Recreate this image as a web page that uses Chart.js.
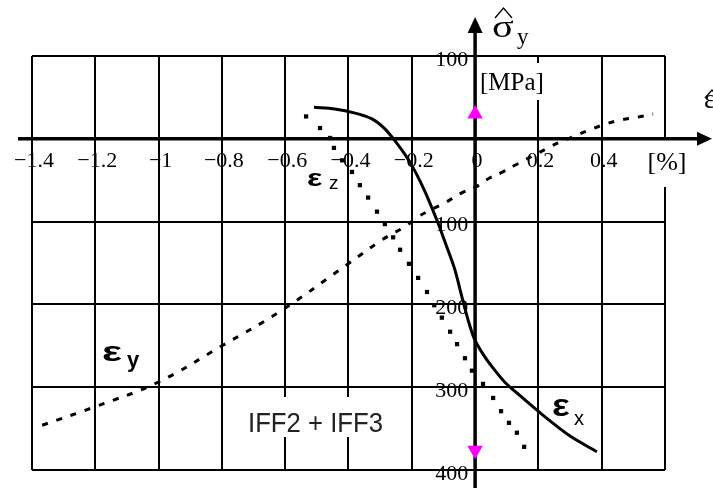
<!DOCTYPE html>
<html>
<head>
<meta charset="utf-8">
<script src="https://cdn.jsdelivr.net/npm/chart.js@4/dist/chart.umd.min.js"></script>
<style>
html,body{margin:0;padding:0;background:#fff;}
#wrap{width:713px;height:488px;}
</style>
</head>
<body>
<div id="wrap"><canvas id="c" width="713" height="488"></canvas></div>
<script>
// x: strain [%], y: stress [MPa] (compression drawn downward, labels as magnitudes)
const xTicks = [-1.4, -1.2, -1.0, -0.8, -0.6, -0.4, -0.2, 0, 0.2, 0.4, 0.6];
const yTicks = [-100, 0, 100, 200, 300, 400];

const epsX_x = [-0.509, -0.443, -0.379, -0.326, -0.285, -0.250, -0.218, -0.190, -0.158, -0.120, -0.089, -0.064, -0.041, -0.022, -0.003, 0.025, 0.057, 0.094, 0.132, 0.215, 0.300, 0.385];
const epsX_y = [-38, -36, -31, -24, -12, 4, 21, 39, 64, 99, 131, 158, 192, 219, 241, 260, 277, 294, 307, 334, 359, 378];

const epsZ_x = [-0.534, -0.490, -0.458, -0.446, -0.420, -0.389, -0.364, -0.338, -0.310, -0.285, -0.259, -0.237, -0.209, -0.180, -0.152, -0.129, -0.105, -0.079, -0.057, -0.032, -0.010, 0.025, 0.057, 0.082, 0.107, 0.132, 0.155];
const epsZ_y = [-27, -13, -1, 11, 26, 40, 56, 71, 88, 103, 119, 134, 151, 168, 185, 201, 216, 233, 248, 265, 280, 296, 313, 329, 343, 355, 372];

const epsY_x = [-1.368, -1.204, -1.002, -0.800, -0.610, -0.405, -0.294, -0.221, -0.180, -0.089, -0.041, 0.003, 0.047, 0.088, 0.126, 0.205, 0.262, 0.306, 0.363, 0.414, 0.464, 0.512, 0.562];
const epsY_y = [346, 324, 294, 250, 207, 152, 122, 106, 94, 76, 65, 58, 47, 40, 32, 16, 5, -2, -11, -18, -23, -26, -30];

const limitX = [0, 0];
const limitY = [-30, 376];
const limitRot = [0, 180];

const curveLabels = ['\u03b5', 'x', 'y', 'z'];
const noteText = 'IFF2 + IFF3';
const unitY = '[MPa]';
const unitX = '[%]';

function pts(xs, ys){ return xs.map((x,i)=>({x:x, y:ys[i]})); }

const decor = {
  id: 'decor',
  beforeDatasetsDraw(chart){
    const ctx = chart.ctx;
    const xs = chart.scales.x, ys = chart.scales.y;
    const x0 = xs.getPixelForValue(0), y0 = ys.getPixelForValue(0);
    ctx.save();
    // white backdrops
    ctx.fillStyle = '#fff';
    ctx.fillRect(477, 63, 76, 37);
    ctx.fillRect(244, 397, 145, 40);
    // axes
    ctx.strokeStyle = '#000';
    ctx.fillStyle = '#000';
    ctx.lineWidth = 3.5;
    ctx.beginPath();
    ctx.moveTo(18, y0); ctx.lineTo(700, y0);
    ctx.moveTo(x0, 488); ctx.lineTo(x0, 30);
    ctx.stroke();
    ctx.beginPath();
    ctx.moveTo(712, y0); ctx.lineTo(697, y0 - 7); ctx.lineTo(697, y0 + 7); ctx.closePath();
    ctx.fill();
    ctx.beginPath();
    ctx.moveTo(x0, 17); ctx.lineTo(x0 - 7.5, 33); ctx.lineTo(x0 + 7.5, 33); ctx.closePath();
    ctx.fill();
    // texts
    ctx.textBaseline = 'alphabetic';
    ctx.textAlign = 'left';
    ctx.font = '25px "Liberation Serif"';
    ctx.fillText(unitY, 480, 90);
    // sigma hat y
    ctx.save();
    ctx.translate(492, 37); ctx.scale(1.3, 1);
    ctx.font = '31px "Liberation Serif"';
    ctx.fillText('\u03c3', 0, 0);
    ctx.restore();
    ctx.font = '23px "Liberation Serif"';
    ctx.fillText('y', 517, 44);
    ctx.lineWidth = 1.3;
    ctx.beginPath();
    ctx.moveTo(495, 18); ctx.lineTo(503.5, 8); ctx.lineTo(512, 18);
    ctx.stroke();
    // epsilon hat
    ctx.font = '27px "Liberation Serif"';
    ctx.fillText('\u03b5', 704, 108);
    ctx.beginPath();
    ctx.moveTo(705, 98); ctx.lineTo(712, 90); ctx.lineTo(719, 98);
    ctx.stroke();
    // IFF note
    ctx.fillStyle = '#222';
    ctx.font = '28px "Liberation Sans"';
    ctx.fillText(noteText, 248, 432, 135);
    // curve names
    ctx.fillStyle = '#000';
    const eps = (x, y, sx, size) => {
      ctx.save();
      ctx.translate(x, y); ctx.scale(sx, 1);
      ctx.font = 'bold ' + size + 'px "Liberation Sans"';
      ctx.fillText(curveLabels[0], 0, 0);
      ctx.restore();
    };
    eps(307, 186, 1.35, 24);
    ctx.font = '19px "Liberation Sans"';
    ctx.fillText(curveLabels[3], 329, 189);
    eps(102, 361, 1.5, 28);
    ctx.font = 'bold 22px "Liberation Sans"';
    ctx.fillText(curveLabels[2], 127, 367);
    eps(552, 416, 1.2, 31);
    ctx.font = '20px "Liberation Sans"';
    ctx.fillText(curveLabels[1], 574, 425);
    ctx.restore();
  }
};

const isUnitTick = v => Math.abs(v - 0.6) < 1e-6;
const fmtX = v => {
  if (isUnitTick(v)) return unitX;
  const r = Math.round(v * 10) / 10;
  return String(r).replace('-', '\u2212');
};

new Chart(document.getElementById('c'), {
  type: 'scatter',
  data: {
    datasets: [
      { label: 'eps_y', data: pts(epsY_x, epsY_y), showLine: true, borderColor: '#000', borderWidth: 3, borderDash: [6, 9], pointRadius: 0, tension: 0.4, fill: false },
      { label: 'eps_x', data: pts(epsX_x, epsX_y), showLine: true, borderColor: '#000', borderWidth: 3, pointRadius: 0, tension: 0.3, fill: false },
      { label: 'eps_z', data: pts(epsZ_x, epsZ_y), showLine: false, pointStyle: 'rect', pointRadius: 3, backgroundColor: '#000', borderColor: '#000', borderWidth: 0 },
      { label: 'limits', data: pts(limitX, limitY), showLine: false, pointStyle: 'triangle', pointRadius: 9, pointRotation: limitRot, backgroundColor: '#ff00ff', borderColor: '#ff00ff', borderWidth: 0 }
    ]
  },
  options: {
    responsive: false,
    animation: false,
    events: [],
    layout: { padding: { left: 32, right: 48, top: 56, bottom: 18 } },
    plugins: { legend: { display: false }, tooltip: { enabled: false } },
    scales: {
      x: {
        type: 'linear', min: -1.4, max: 0.6,
        position: { y: 0 },
        afterBuildTicks: s => { s.ticks = xTicks.map(v => ({ value: v })); },
        grid: { color: '#000', lineWidth: 2, tickLength: 6 },
        border: { display: false },
        ticks: {
          callback: fmtX, color: '#000', padding: 3, labelOffset: 2, maxRotation: 0, autoSkip: false,
          font: c => ({ family: '"Liberation Serif"', size: (c.tick && isUnitTick(c.tick.value)) ? 26 : 22 }),
          showLabelBackdrop: true,
          backdropColor: c => (c.tick && isUnitTick(c.tick.value)) ? '#fff' : 'rgba(255,255,255,0)',
          backdropPadding: { top: 8, bottom: 8, left: 3, right: 3 }
        }
      },
      y: {
        type: 'linear', min: -100, max: 400, reverse: true,
        position: { x: -0.022 },
        afterBuildTicks: s => { s.ticks = yTicks.map(v => ({ value: v })); },
        grid: { color: '#000', lineWidth: 2, drawTicks: false },
        border: { display: false },
        ticks: {
          callback: v => v === 0 ? '' : String(Math.abs(v)), color: '#000', padding: 0, labelOffset: 4, autoSkip: false,
          font: { family: '"Liberation Serif"', size: 22 }
        }
      }
    }
  },
  plugins: [decor]
});
</script>
</body>
</html>
